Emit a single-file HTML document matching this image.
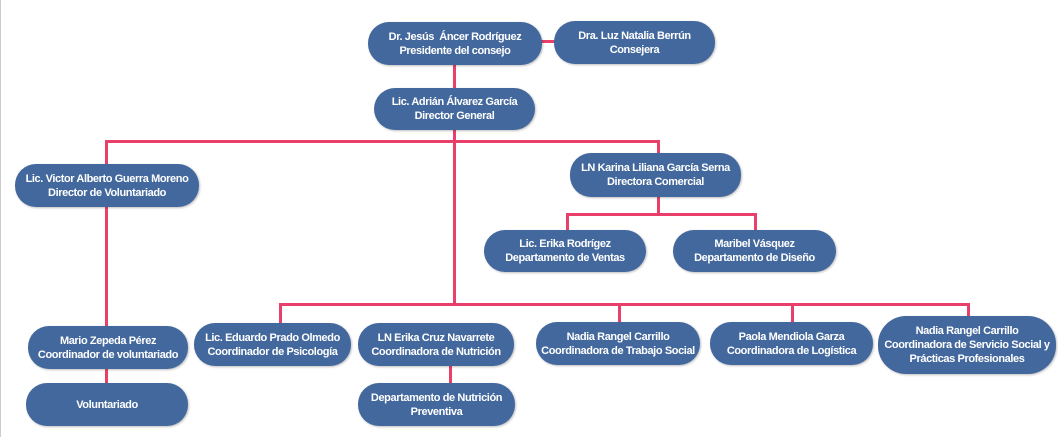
<!DOCTYPE html>
<html><head><meta charset="utf-8"><style>
html,body{margin:0;padding:0;background:#fff;}
#c{position:relative;width:1058px;height:437px;overflow:hidden;border-left:1px solid #ccc;box-sizing:border-box;}
.n{position:absolute;background:#43689d;color:#fff;border-radius:21px;display:flex;align-items:center;justify-content:center;text-align:center;font-family:"Liberation Sans Narrow","Liberation Sans",sans-serif;font-weight:bold;font-size:11px;line-height:14px;letter-spacing:-0.4px;box-shadow:1px 1px 2px rgba(0,0,0,0.25);}
.l{position:absolute;background:#e8406b;}
</style></head><body><div id="c">
<!-- lines -->
<div class="l" style="left:540px;top:40px;width:14px;height:3px"></div>
<div class="l" style="left:452px;top:64px;width:3px;height:241px"></div>
<div class="l" style="left:104px;top:140px;width:555px;height:3px"></div>
<div class="l" style="left:104px;top:140px;width:3px;height:186px"></div>
<div class="l" style="left:104px;top:368px;width:3px;height:16px"></div>
<div class="l" style="left:656px;top:140px;width:3px;height:75px"></div>
<div class="l" style="left:565px;top:213px;width:191px;height:3px"></div>
<div class="l" style="left:565px;top:213px;width:3px;height:18px"></div>
<div class="l" style="left:753px;top:213px;width:3px;height:18px"></div>
<div class="l" style="left:278px;top:303px;width:691px;height:3px"></div>
<div class="l" style="left:278px;top:303px;width:3px;height:21px"></div>
<div class="l" style="left:617px;top:303px;width:3px;height:20px"></div>
<div class="l" style="left:790px;top:303px;width:3px;height:20px"></div>
<div class="l" style="left:966px;top:303px;width:3px;height:14px"></div>
<div class="l" style="left:448px;top:365px;width:3px;height:19px"></div>
<!-- nodes -->
<div class="n" style="left:367px;top:22px;width:174px;height:43px">Dr. Jesús&nbsp; Áncer Rodríguez<br>Presidente del consejo</div>
<div class="n" style="left:553px;top:21px;width:161px;height:43px">Dra. Luz Natalia Berrún<br>Consejera</div>
<div class="n" style="left:373px;top:88px;width:161px;height:42px">Lic. Adrián Álvarez García<br>Director General</div>
<div class="n" style="left:14px;top:164px;width:184px;height:43px">Lic. Victor Alberto Guerra Moreno<br>Director de Voluntariado</div>
<div class="n" style="left:569px;top:153px;width:171px;height:44px">LN Karina Liliana García Serna<br>Directora Comercial</div>
<div class="n" style="left:483px;top:230px;width:162px;height:42px">Lic. Erika Rodrígez<br>Departamento de Ventas</div>
<div class="n" style="left:672px;top:230px;width:163px;height:42px">Maribel Vásquez<br>Departamento de Diseño</div>
<div class="n" style="left:27px;top:326px;width:160px;height:43px">Mario Zepeda Pérez<br>Coordinador de voluntariado</div>
<div class="n" style="left:25px;top:383px;width:162px;height:43px">Voluntariado</div>
<div class="n" style="left:193px;top:323px;width:157px;height:43px">Lic. Eduardo Prado Olmedo<br>Coordinador de Psicología</div>
<div class="n" style="left:357px;top:323px;width:156px;height:43px">LN Erika Cruz Navarrete<br>Coordinadora de Nutrición</div>
<div class="n" style="left:357px;top:383px;width:157px;height:43px">Departamento de Nutrición<br>Preventiva</div>
<div class="n" style="left:535px;top:322px;width:164px;height:43px">Nadia Rangel Carrillo<br>Coordinadora de Trabajo Social</div>
<div class="n" style="left:709px;top:322px;width:163px;height:43px">Paola Mendiola Garza<br>Coordinadora de Logística</div>
<div class="n" style="left:877px;top:316px;width:178px;height:58px;border-radius:28px">Nadia Rangel Carrillo<br>Coordinadora de Servicio Social y<br>Prácticas Profesionales</div>
</div></body></html>
